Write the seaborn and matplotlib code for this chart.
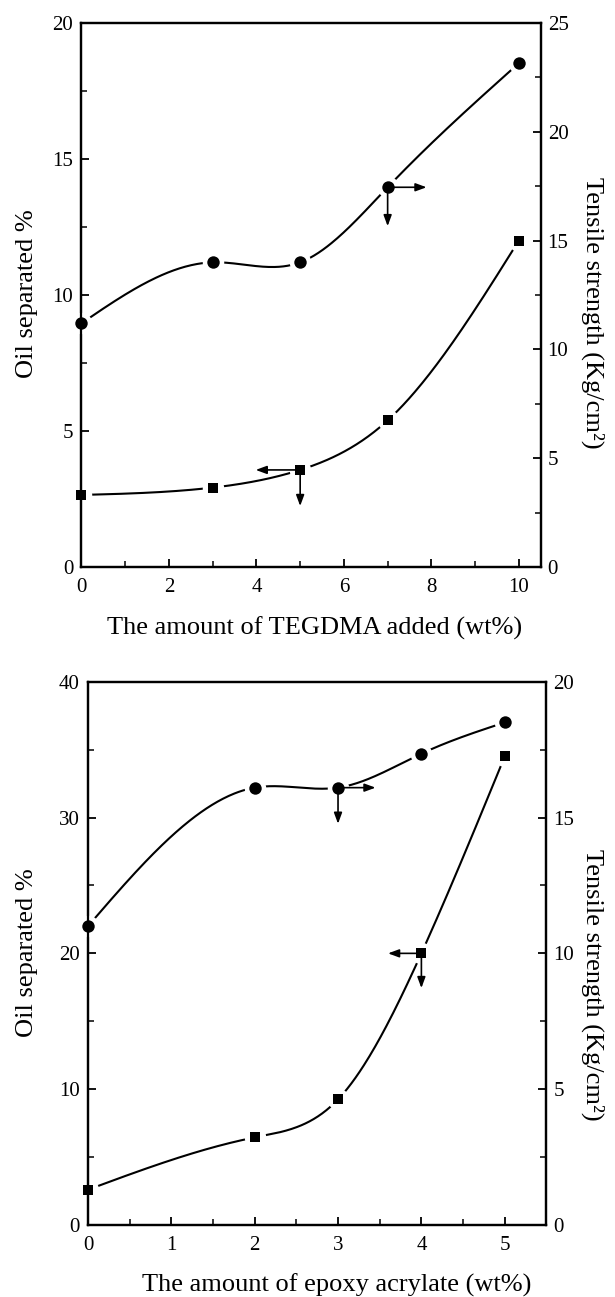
import numpy as np
import matplotlib
matplotlib.use("Agg")
import matplotlib.pyplot as plt
import seaborn as sns
from matplotlib.ticker import MultipleLocator

sns.set_theme(style="ticks")
plt.rcParams["font.family"] = ["Liberation Serif", "DejaVu Serif"]
plt.rcParams.update({
    "axes.edgecolor": "black",
    "text.color": "black",
    "axes.labelcolor": "black",
    "xtick.color": "black",
    "ytick.color": "black",
    "xtick.direction": "in",
    "ytick.direction": "in",
})

# Upper panel: TEGDMA content
tegdma_wt = [0, 3, 5, 7, 10]
tegdma_oil = [2.65, 2.92, 3.57, 5.39, 12.0]          # Oil separated %
tegdma_tensile = [11.2, 14.0, 14.0, 17.45, 23.15]    # Tensile strength (Kg/cm2)

# Lower panel: epoxy acrylate content
epoxy_wt = [0, 2, 3, 4, 5]
epoxy_oil = [2.6, 6.45, 9.25, 20.0, 34.5]
epoxy_tensile = [11.0, 16.1, 16.1, 17.35, 18.5]

TICK_FS = 15
LABEL_FS = 19


def natural_spline(x, y, n=300):
    """Natural cubic spline through (x, y), evaluated on a dense grid."""
    x = np.asarray(x, float)
    y = np.asarray(y, float)
    k = len(x)
    h = np.diff(x)
    A = np.zeros((k, k))
    b = np.zeros(k)
    A[0, 0] = A[-1, -1] = 1.0
    for i in range(1, k - 1):
        A[i, i - 1] = h[i - 1]
        A[i, i] = 2 * (h[i - 1] + h[i])
        A[i, i + 1] = h[i]
        b[i] = 6 * ((y[i + 1] - y[i]) / h[i] - (y[i] - y[i - 1]) / h[i - 1])
    M = np.linalg.solve(A, b)
    xs = np.linspace(x[0], x[-1], n)
    idx = np.clip(np.searchsorted(x, xs) - 1, 0, k - 2)
    x0, x1 = x[idx], x[idx + 1]
    hh = x1 - x0
    t0, t1 = x1 - xs, xs - x0
    ys = (M[idx] * t0 ** 3 + M[idx + 1] * t1 ** 3) / (6 * hh) \
        + (y[idx] / hh - M[idx] * hh / 6) * t0 \
        + (y[idx + 1] / hh - M[idx + 1] * hh / 6) * t1
    return xs, ys


def draw_series(ax, x, y, marker, msize):
    xs, ys = natural_spline(x, y)
    sns.lineplot(x=xs, y=ys, ax=ax, color="black", linewidth=1.5,
                 sort=False, estimator=None, zorder=2)
    # white halo leaves a small gap between curve and marker
    sns.scatterplot(x=x, y=y, ax=ax, color="white", marker="o", s=240,
                    linewidth=0, zorder=2.2, clip_on=False)
    sns.scatterplot(x=x, y=y, ax=ax, color="black", marker=marker, s=msize,
                    linewidth=0, zorder=3, clip_on=False)


def arrow(ax, x, y, dx, dy):
    ax.annotate("", xy=(x, y), xycoords="data",
                xytext=(dx, dy), textcoords="offset points",
                arrowprops=dict(arrowstyle="<|-,head_length=0.65,head_width=0.24",
                                color="black", lw=1.2, shrinkA=0, shrinkB=0,
                                mutation_scale=10),
                zorder=4, annotation_clip=False)


def style_axes(ax, ax2, xmax, xmaj, xmin, lmax, lmaj, lmin, rmax, rmaj, rmin):
    ax.xaxis.set_major_locator(MultipleLocator(xmaj))
    ax.xaxis.set_minor_locator(MultipleLocator(xmin))
    ax.yaxis.set_major_locator(MultipleLocator(lmaj))
    ax.yaxis.set_minor_locator(MultipleLocator(lmin))
    ax2.yaxis.set_major_locator(MultipleLocator(rmaj))
    ax2.yaxis.set_minor_locator(MultipleLocator(rmin))
    ax.set_xlim(0, xmax)
    ax.set_ylim(0, lmax)
    ax2.set_ylim(0, rmax)
    for a in (ax, ax2):
        for sp in a.spines.values():
            sp.set_linewidth(1.6)
            sp.set_color("black")
        a.set_xlabel("")
        a.set_ylabel("")
    ax.tick_params(axis="x", which="both", top=False, bottom=True,
                   labelsize=TICK_FS, pad=8)
    ax.tick_params(axis="y", which="both", left=True, right=False,
                   labelsize=TICK_FS, pad=6)
    ax2.tick_params(axis="y", which="both", left=False, right=True,
                    labelsize=TICK_FS, pad=5)
    for a in (ax, ax2):
        a.tick_params(which="major", length=6, width=1.3)
        a.tick_params(which="minor", length=4, width=1.1)


fig = plt.figure(figsize=(6.15, 12.97), dpi=100)

# ---- upper panel ----
ax_a = fig.add_axes([0.1325, 0.5628, 0.7467, 0.4195])
ax_a2 = ax_a.twinx()
draw_series(ax_a, tegdma_wt, tegdma_oil, "s", 62)
draw_series(ax_a2, tegdma_wt, tegdma_tensile, "o", 80)
style_axes(ax_a, ax_a2, 10.5, 2, 1, 20, 5, 2.5, 25, 5, 2.5)
arrow(ax_a2, tegdma_wt[3], tegdma_tensile[3], 28, 0)
arrow(ax_a2, tegdma_wt[3], tegdma_tensile[3], 0, -28)
arrow(ax_a, tegdma_wt[2], tegdma_oil[2], -32, 0)
arrow(ax_a, tegdma_wt[2], tegdma_oil[2], 0, -26)

# ---- lower panel ----
ax_b = fig.add_axes([0.143, 0.0555, 0.7455, 0.4189])
ax_b2 = ax_b.twinx()
draw_series(ax_b, epoxy_wt, epoxy_oil, "s", 62)
draw_series(ax_b2, epoxy_wt, epoxy_tensile, "o", 80)
style_axes(ax_b, ax_b2, 5.5, 1, 0.5, 40, 10, 5, 20, 5, 2.5)
arrow(ax_b2, epoxy_wt[2], epoxy_tensile[2], 27, 0)
arrow(ax_b2, epoxy_wt[2], epoxy_tensile[2], 0, -26)
arrow(ax_b, epoxy_wt[3], epoxy_oil[3], -24, 0)
arrow(ax_b, epoxy_wt[3], epoxy_oil[3], 0, -25)

# ---- axis titles ----
W, H = 615.0, 1297.0
fig.text(315 / W, 1 - 628 / H, "The amount of TEGDMA added (wt%)",
         ha="center", va="center", fontsize=LABEL_FS)
fig.text(27 / W, 1 - 294 / H, "Oil separated %", rotation=90,
         ha="center", va="center", fontsize=LABEL_FS)
fig.text(593 / W, 1 - 313 / H, "Tensile strength (Kg/cm²)", rotation=270,
         ha="center", va="center", fontsize=LABEL_FS)

fig.text(337 / W, 1 - 1285 / H, "The amount of epoxy acrylate (wt%)",
         ha="center", va="center", fontsize=LABEL_FS)
fig.text(27 / W, 1 - 953 / H, "Oil separated %", rotation=90,
         ha="center", va="center", fontsize=LABEL_FS)
fig.text(593 / W, 1 - 985 / H, "Tensile strength (Kg/cm²)", rotation=270,
         ha="center", va="center", fontsize=LABEL_FS)

fig.savefig("out.png", dpi=100)
